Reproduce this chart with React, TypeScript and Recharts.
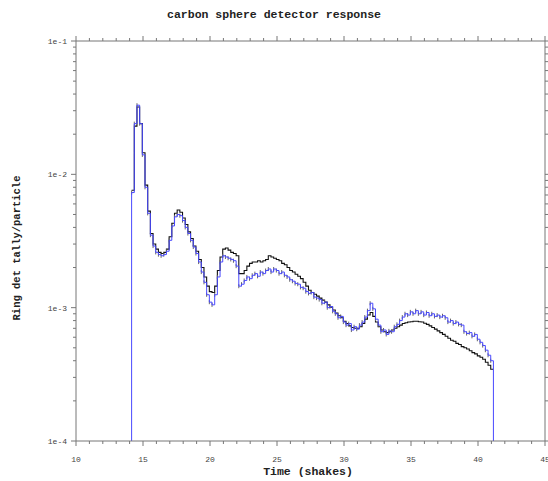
import { LineChart, Line, XAxis, YAxis, ErrorBar } from 'recharts';

// tally per bin, in units of 1e-3, bins 0.2 shakes wide starting at 14.15
const blackTally = [
  7.6, 23, 32, 24, 14.5, 8.3, 5.3, 3.6, 3.0, 2.75,
  2.6, 2.55, 2.6, 2.75, 3.4, 4.3, 5.1, 5.4, 5.2, 4.7,
  4.2, 3.7, 3.3, 2.9, 2.65, 2.3, 2.0, 1.7, 1.45, 1.32,
  1.3, 1.45, 1.9, 2.4, 2.75, 2.8, 2.7, 2.6, 2.55, 2.45,
  1.8, 1.8, 1.9, 2.05, 2.15, 2.2, 2.2, 2.25, 2.2, 2.25,
  2.3, 2.45, 2.4, 2.35, 2.3, 2.25, 2.15, 2.1, 2.0, 1.9,
  1.85, 1.78, 1.72, 1.65, 1.55, 1.45, 1.35, 1.3, 1.26, 1.22,
  1.18, 1.14, 1.1, 1.05, 1.01, 0.96, 0.91, 0.87, 0.84, 0.79,
  0.76, 0.73, 0.71, 0.7, 0.7, 0.72, 0.76, 0.82, 0.88, 0.92,
  0.86, 0.78, 0.72, 0.68, 0.66, 0.65, 0.66, 0.68, 0.7, 0.72,
  0.74, 0.76, 0.77, 0.78, 0.785, 0.79, 0.79, 0.785, 0.78, 0.765,
  0.75, 0.73, 0.71, 0.69, 0.67, 0.65, 0.63, 0.61, 0.59, 0.57,
  0.56, 0.54, 0.53, 0.51, 0.5, 0.49, 0.475, 0.46, 0.45, 0.435,
  0.425, 0.41, 0.39, 0.37, 0.345,
];

const blueTally = [
  7.3, 24, 33, 24, 14, 8.0, 5.1, 3.5, 2.9, 2.6,
  2.5, 2.45, 2.5, 2.65, 3.2, 4.1, 4.8, 5.0, 4.9, 4.5,
  4.0, 3.6, 3.2, 2.85, 2.55, 2.2, 1.85, 1.55, 1.25, 1.1,
  1.05, 1.25, 1.7, 2.2, 2.45, 2.4, 2.35, 2.3, 2.25, 2.05,
  1.45, 1.5, 1.6, 1.7, 1.65, 1.75, 1.8, 1.72, 1.85, 1.8,
  1.9, 1.95, 1.85, 1.95, 1.9, 1.8, 1.85, 1.75, 1.7, 1.62,
  1.58, 1.52, 1.5, 1.42, 1.4, 1.32, 1.28, 1.3, 1.2, 1.18,
  1.15, 1.08, 1.1, 1.0, 1.02, 0.94, 0.9, 0.84, 0.86, 0.78,
  0.74, 0.76, 0.68, 0.72, 0.69, 0.74, 0.78, 0.85, 0.95, 1.08,
  0.98, 0.82, 0.74, 0.66, 0.68, 0.63, 0.67, 0.66, 0.72, 0.75,
  0.8, 0.85, 0.9, 0.88, 0.93, 0.9, 0.95, 0.9, 0.93, 0.88,
  0.92, 0.87, 0.9, 0.86, 0.88, 0.85, 0.87, 0.84, 0.78, 0.8,
  0.76, 0.78, 0.75, 0.74, 0.66, 0.64, 0.65, 0.61, 0.63, 0.58,
  0.55, 0.52, 0.48, 0.44, 0.4,
];

const binStart = 14.15;
const binWidth = 0.2;
const binTimes = blackTally.map((_, i) => +(binStart + i * binWidth).toFixed(2));
const binEnd = +(binStart + blackTally.length * binWidth).toFixed(2);

const xTicks = Array.from({ length: 36 }, (_, i) => 10 + i);
const yTicks = [1e-4, 1e-3, 1e-2].flatMap((d) => [1, 2, 3, 4, 5, 6, 7, 8, 9].map((k) => +(k * d).toPrecision(2))).concat([1e-1]);

const FLOOR = 1e-4;
const lastBlack = blackTally[blackTally.length - 1] / 1000;
const rows = [
  { t: binStart, black: null, blue: FLOOR, err: 0 },
  ...binTimes.map((t, i) => ({
    t,
    black: blackTally[i] / 1000,
    blue: blueTally[i] / 1000,
    err: (blueTally[i] / 1000) * 0.035,
  })),
  { t: binEnd, black: lastBlack, blue: FLOOR, err: 0 },
];

const FONT = '"Liberation Mono", "DejaVu Sans Mono", monospace';
const AXIS = '#777';

const XTick = ({ x, y, payload, top }: any) => {
  const major = Math.abs(payload.value % 5) < 1e-6;
  const len = major ? 5 : 3;
  const dir = top ? -1 : 1;
  return (
    <g>
      <line x1={x} x2={x} y1={y} y2={y + dir * len} stroke={AXIS} />
      {major && !top && (
        <text x={x} y={y + 21} textAnchor="middle" fontSize={8} fontFamily={FONT} fill="#444">
          {payload.value}
        </text>
      )}
    </g>
  );
};

const YTick = ({ x, y, payload, right }: any) => {
  const lg = Math.log10(payload.value);
  const major = Math.abs(lg - Math.round(lg)) < 1e-6;
  const len = major ? 5 : 3;
  const dir = right ? 1 : -1;
  return (
    <g>
      <line x1={x} x2={x + dir * len} y1={y} y2={y} stroke={AXIS} />
      {major && !right && (
        <text x={x - 9} y={y + 3} textAnchor="end" fontSize={8} fontFamily={FONT} fill="#444">
          {`1e${Math.round(lg)}`}
        </text>
      )}
    </g>
  );
};

export default function App() {
  return (
    <div style={{ position: 'absolute', left: 0, top: 0, width: 548, height: 481, background: '#fff' }}>
      <div
        style={{
          position: 'absolute', left: 0, top: 8, width: 548, textAlign: 'center',
          fontFamily: FONT, fontSize: 11.5, fontWeight: 'bold', color: '#222',
        }}
      >
        carbon sphere detector response
      </div>
      <div
        style={{
          position: 'absolute', left: 17, top: 248, transform: 'translate(-50%, -50%) rotate(-90deg)',
          whiteSpace: 'nowrap', fontFamily: FONT, fontSize: 10.5, fontWeight: 'bold', color: '#222',
        }}
      >
        Ring det tally/particle
      </div>
      <div
        style={{
          position: 'absolute', left: 0, top: 465, width: 616, textAlign: 'center',
          fontFamily: FONT, fontSize: 11.5, fontWeight: 'bold', color: '#222',
        }}
      >
        Time (shakes)
      </div>
      <LineChart width={548} height={481} data={rows} margin={{ top: 33, right: 0, bottom: 10, left: 26 }}>
        <XAxis
          dataKey="t" type="number" domain={[10, 45]} ticks={xTicks} interval={0}
          allowDataOverflow height={30} tickSize={0} tickMargin={0}
          axisLine={{ stroke: AXIS }} tick={(p: any) => <XTick {...p} />}
        />
        <XAxis
          xAxisId="top" orientation="top" dataKey="t" type="number" domain={[10, 45]} ticks={xTicks}
          interval={0} allowDataOverflow height={8} tickSize={0} tickMargin={0}
          axisLine={{ stroke: AXIS }} tick={(p: any) => <XTick {...p} top />}
        />
        <YAxis
          scale="log" type="number" domain={[1e-4, 1e-1]} ticks={yTicks} interval={0}
          allowDataOverflow width={50} tickSize={0} tickMargin={0}
          axisLine={{ stroke: AXIS }} tick={(p: any) => <YTick {...p} />}
        />
        <YAxis
          yAxisId="right" orientation="right" scale="log" type="number" domain={[1e-4, 1e-1]}
          ticks={yTicks} interval={0} allowDataOverflow width={3} tickSize={0} tickMargin={0}
          axisLine={{ stroke: AXIS }} tick={(p: any) => <YTick {...p} right />}
        />
        <Line
          xAxisId="top" yAxisId="right" dataKey="blue" type="stepAfter" stroke="none"
          dot={false} isAnimationActive={false}
        />
        <Line dataKey="black" type="stepAfter" stroke="#111" strokeWidth={1.1} dot={false} isAnimationActive={false} />
        <Line dataKey="blue" type="stepAfter" stroke="#4848ff" strokeWidth={1} dot={false} isAnimationActive={false}>
          <ErrorBar dataKey="err" width={0} stroke="#666" strokeWidth={1} direction="y" />
        </Line>
      </LineChart>
    </div>
  );
}
